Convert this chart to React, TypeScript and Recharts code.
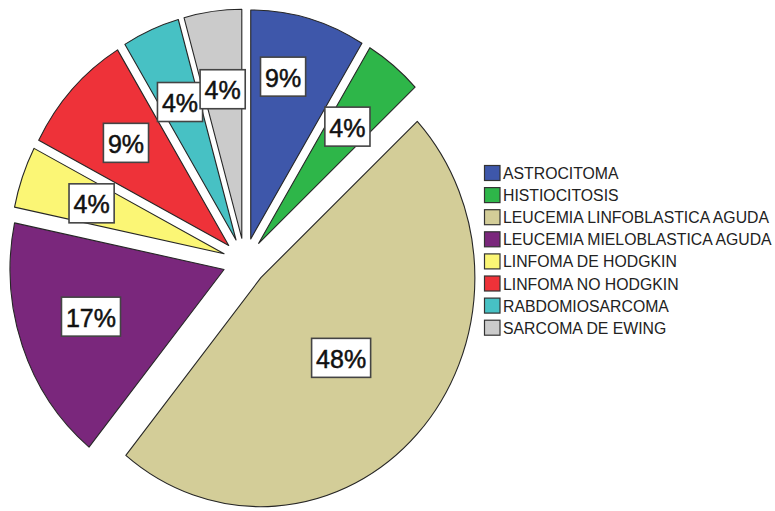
import React from 'react';
import { PieChart, Pie, Legend } from 'recharts';

// Diagnoses and number of cases per diagnosis
const CATEGORIES = [
  'ASTROCITOMA',
  'HISTIOCITOSIS',
  'LEUCEMIA LINFOBLASTICA AGUDA',
  'LEUCEMIA MIELOBLASTICA AGUDA',
  'LINFOMA DE HODGKIN',
  'LINFOMA NO HODGKIN',
  'RABDOMIOSARCOMA',
  'SARCOMA DE EWING',
];
const CASES = [2, 1, 11, 4, 1, 2, 1, 1];
const COLORS = ['#3e57aa', '#2eb649', '#d3cd98', '#7a277c', '#fbf675', '#ee3239', '#47c1c4', '#cbcbcb'];

const data = CATEGORIES.map((name, i) => ({ name, value: CASES[i] }));

// Layout / style
const W = 775;
const H = 511;
const CX = 244.8;
const CY = 261.6;
const RX = 214;
const Y_SCALE = 229 / 214; // pie is drawn slightly taller than wide
const EXPLODE = 22;
const RAD = Math.PI / 180;
const FONT = '"Liberation Sans", Arial, Helvetica, sans-serif';
const TAG_FONT = 25;

// where each percentage tag sits along its slice's mid-line (fraction of radius)
const TAG_REACH: Record<string, [number, number]> = {
  ASTROCITOMA: [0.56, 0.736],
  'LEUCEMIA LINFOBLASTICA AGUDA': [0.513, 0.513],
  'LEUCEMIA MIELOBLASTICA AGUDA': [0.66, 0.615],
};
const DEFAULT_REACH: [number, number] = [0.657, 0.657];

const apex = (cx: number, cy: number, mid: number): [number, number] => [
  cx + EXPLODE * Math.cos(-mid * RAD),
  cy + EXPLODE * Y_SCALE * Math.sin(-mid * RAD),
];

function slicePath(cx: number, cy: number, r: number, start: number, end: number) {
  const mid = (start + end) / 2;
  const [ox, oy] = apex(cx, cy, mid);
  const pt = (a: number) => [ox + r * Math.cos(-a * RAD), oy + r * Y_SCALE * Math.sin(-a * RAD)];
  const [x1, y1] = pt(start);
  const [x2, y2] = pt(end);
  const large = Math.abs(end - start) > 180 ? 1 : 0;
  const sweep = start > end ? 1 : 0;
  return `M${ox},${oy}L${x1},${y1}A${r},${r * Y_SCALE} 0 ${large} ${sweep} ${x2},${y2}Z`;
}

const renderSlice = (p: any) => {
  const { cx, cy, outerRadius, startAngle, endAngle, index } = p;
  return (
    <path
      d={slicePath(cx, cy, outerRadius, startAngle, endAngle)}
      fill={COLORS[index]}
      stroke="#262626"
      strokeWidth={1.1}
      strokeLinejoin="round"
    />
  );
};

const textWidth = (s: string) =>
  s.split('').reduce((w, ch) => w + (ch === '%' ? 0.889 : 0.556), 0) * TAG_FONT;

const renderTag = (p: any) => {
  const { cx, cy, outerRadius, startAngle, endAngle, percent, index } = p;
  const mid = (startAngle + endAngle) / 2;
  const [ox, oy] = apex(cx, cy, mid);
  const [fx, fy] = TAG_REACH[CATEGORIES[index]] ?? DEFAULT_REACH;
  const x = ox + fx * outerRadius * Math.cos(-mid * RAD);
  const y = oy + fy * outerRadius * Y_SCALE * Math.sin(-mid * RAD);
  const label = `${Math.round(percent * 100)}%`;
  const w = textWidth(label) + 9;
  const h = 39;
  return (
    <g>
      <rect x={x - w / 2} y={y - h / 2} width={w} height={h} fill="#ffffff" stroke="#444" strokeWidth={1.6} />
      <text
        x={x}
        y={y + 1}
        textAnchor="middle"
        dominantBaseline="central"
        fontFamily={FONT}
        fontSize={TAG_FONT}
        fill="#111"
        stroke="#111"
        strokeWidth={0.5}
      >
        {label}
      </text>
    </g>
  );
};

const ROW = 22.1;
const LegendBox = () => (
  <svg width={295} height={185} style={{ display: 'block' }}>
    {CATEGORIES.map((c, i) => (
      <g key={c}>
        <rect x={4.5} y={5.5 + i * ROW} width={15.5} height={15} fill={COLORS[i]} stroke="#333" strokeWidth={1.2} />
        <text
          x={23}
          y={13.5 + i * ROW}
          dominantBaseline="central"
          fontFamily={FONT}
          fontSize={15.8}
          fill="#222"
        >
          {c}
        </text>
      </g>
    ))}
  </svg>
);

export default function App() {
  return (
    <div style={{ position: 'absolute', left: 0, top: 0, width: W, height: H, background: '#fff' }}>
      <PieChart width={W} height={H} margin={{ top: 0, right: 0, bottom: 0, left: 0 }}>
        <Pie
          data={data}
          dataKey="value"
          nameKey="name"
          cx={CX}
          cy={CY}
          outerRadius={RX}
          startAngle={90}
          endAngle={-270}
          fill="none"
          stroke="none"
          label={renderSlice}
          labelLine={false}
          legendType="none"
          isAnimationActive={false}
        />
        <Pie
          data={data}
          dataKey="value"
          nameKey="name"
          cx={CX}
          cy={CY}
          outerRadius={RX}
          startAngle={90}
          endAngle={-270}
          fill="none"
          stroke="none"
          label={renderTag}
          labelLine={false}
          legendType="none"
          isAnimationActive={false}
        />
        <Legend
          layout="vertical"
          align="right"
          verticalAlign="middle"
          content={<LegendBox />}
          wrapperStyle={{ left: 480, top: 160, width: 295, height: 185 }}
        />
      </PieChart>
    </div>
  );
}
